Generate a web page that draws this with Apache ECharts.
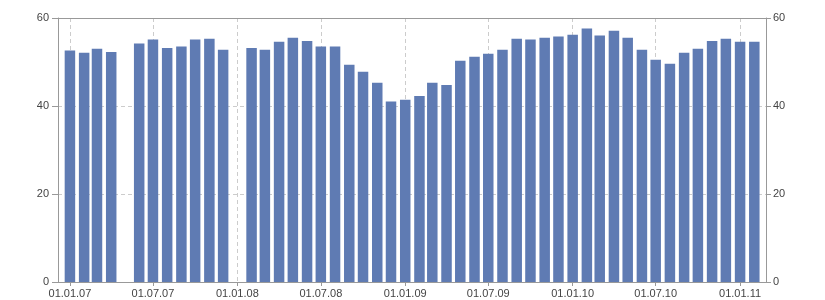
<!DOCTYPE html>
<html>
<head>
<meta charset="utf-8">
<script src="https://cdn.jsdelivr.net/npm/echarts@6/dist/echarts.min.js"></script>
<style>html,body{margin:0;padding:0;background:#fff}#c{width:825px;height:300px}</style>
</head>
<body>
<div id="c"></div>
<script>
// Monthly observations (first day of each month)
const months = [
  '2007-01','2007-02','2007-03','2007-04','2007-05','2007-06','2007-07','2007-08','2007-09','2007-10','2007-11','2007-12',
  '2008-01','2008-02','2008-03','2008-04','2008-05','2008-06','2008-07','2008-08','2008-09','2008-10','2008-11','2008-12',
  '2009-01','2009-02','2009-03','2009-04','2009-05','2009-06','2009-07','2009-08','2009-09','2009-10','2009-11','2009-12',
  '2010-01','2010-02','2010-03','2010-04','2010-05','2010-06','2010-07','2010-08','2010-09','2010-10','2010-11','2010-12',
  '2011-01','2011-02'
];
const values = [
  52.6, 52.1, 53.0, 52.3, null, 54.2, 55.1, 53.2, 53.5, 55.1, 55.3, 52.8,
  null, 53.2, 52.8, 54.6, 55.5, 54.8, 53.5, 53.5, 49.4, 47.8, 45.3, 41.0,
  41.4, 42.3, 45.3, 44.8, 50.3, 51.2, 51.9, 52.8, 55.3, 55.1, 55.5, 55.8,
  56.2, 57.6, 56.0, 57.1, 55.5, 52.8, 50.5, 49.6, 52.1, 53.0, 54.8, 55.3,
  54.6, 54.6
];
const tickDates = ['2007-01','2007-07','2008-01','2008-07','2009-01','2009-07','2010-01','2010-07','2011-01'];
const padDaysStart = 26;
const padDaysEnd = 25.5;
const yTicks = [0, 20, 40, 60];

const DAY = 86400000;
function ts(m) { const p = m.split('-'); return Date.UTC(+p[0], +p[1] - 1, 1); }
function fmt(v) {
  const d = new Date(v);
  const dd = String(d.getUTCDate()).padStart(2, '0');
  const mm = String(d.getUTCMonth() + 1).padStart(2, '0');
  const yy = String(d.getUTCFullYear() % 100).padStart(2, '0');
  return dd + '.' + mm + '.' + yy;
}

const tickTs = tickDates.map(ts);
const data = months.map((m, i) => [ts(m), values[i]]);
const font = { color: '#444', fontSize: 11, fontFamily: 'Liberation Sans, Arial, sans-serif' };

const chart = echarts.init(document.getElementById('c'), null, { renderer: 'canvas' });
chart.setOption({
  animation: false,
  backgroundColor: '#fff',
  grid: { left: 58, right: 59, top: 18, bottom: 18, containLabel: false },
  xAxis: [{
    type: 'value',
    min: ts(months[0]) - padDaysStart * DAY,
    max: ts(months[months.length - 1]) + padDaysEnd * DAY,
    scale: true,
    axisLine: { show: true, onZero: false, lineStyle: { color: '#999', width: 1 } },
    axisTick: { show: true, length: 4, customValues: tickTs, lineStyle: { color: '#999' } },
    axisLabel: Object.assign({ customValues: tickTs, formatter: v => fmt(v), margin: 6, hideOverlap: false }, font),
    splitLine: { show: true, lineStyle: { color: '#ccc', type: [4, 3], width: 1 } }
  }, {
    type: 'value',
    position: 'top',
    min: 0, max: 1,
    axisLine: { show: true, onZero: false, lineStyle: { color: '#999', width: 1 } },
    axisTick: { show: false },
    axisLabel: { show: false },
    splitLine: { show: false }
  }],
  yAxis: [{
    type: 'value',
    position: 'left',
    min: yTicks[0], max: yTicks[yTicks.length - 1], interval: 20,
    axisLine: { show: true, lineStyle: { color: '#999', width: 1 } },
    axisTick: { show: true, length: 6, lineStyle: { color: '#999' } },
    axisLabel: Object.assign({ margin: 9 }, font),
    splitLine: { show: true, lineStyle: { color: '#ccc', type: [4, 3], width: 1 } }
  }, {
    type: 'value',
    position: 'right',
    min: yTicks[0], max: yTicks[yTicks.length - 1], interval: 20,
    axisLine: { show: true, lineStyle: { color: '#999', width: 1 } },
    axisTick: { show: true, length: 5, lineStyle: { color: '#999' } },
    axisLabel: Object.assign({ margin: 7 }, font),
    splitLine: { show: false }
  }],
  series: [{
    type: 'bar',
    xAxisIndex: 0,
    yAxisIndex: 0,
    data: data,
    barWidth: 10.5,
    itemStyle: { color: '#5f7bb3' },
    z: 1
  }]
});
</script>
</body>
</html>
